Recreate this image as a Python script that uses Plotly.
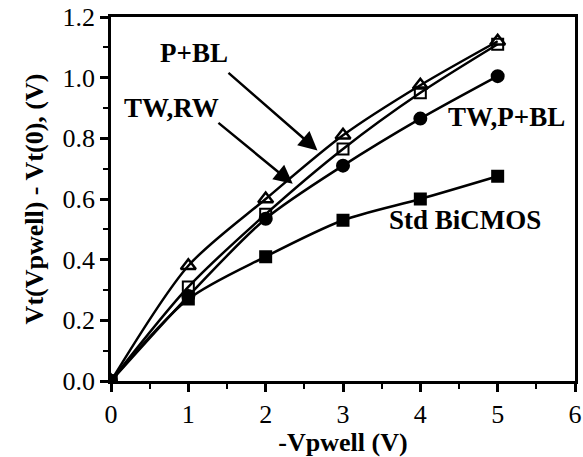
import plotly.graph_objects as go

vp = [0, 1, 2, 3, 4, 5]
std_bicmos = [0.0, 0.27, 0.41, 0.53, 0.60, 0.675]
tw_pbl = [0.0, 0.28, 0.535, 0.71, 0.865, 1.005]
tw_rw = [0.0, 0.31, 0.55, 0.765, 0.95, 1.11]
p_bl = [0.0, 0.38, 0.60, 0.81, 0.975, 1.12]

x_ticks = [0, 1, 2, 3, 4, 5, 6]
y_ticks = [0.0, 0.2, 0.4, 0.6, 0.8, 1.0, 1.2]

FONT = "Liberation Serif"
fig = go.Figure()

series = [
    ("Std BiCMOS", std_bicmos, "square", 11, 2),
    ("TW,P+BL", tw_pbl, "circle", 12, 2),
    ("TW,RW", tw_rw, "square-open", 11, 2),
    ("P+BL", p_bl, "triangle-up-open", 13, 2.5),
]
for name, ys, sym, sz, lw in series:
    fig.add_trace(go.Scatter(
        x=vp, y=ys, name=name, mode="lines+markers",
        line=dict(color="black", width=2.5, shape="spline", smoothing=0.8),
        marker=dict(symbol=sym, size=sz, color="black",
                    line=dict(color="black", width=lw)),
        showlegend=False,
    ))

lab_font = dict(family=FONT, size=27, color="black", weight="bold")
# arrows
fig.add_annotation(x=2.67, y=0.76, ax=1.50, ay=1.02, xref="x", yref="y",
                   axref="x", ayref="y", showarrow=True, arrowhead=2,
                   arrowsize=1.5, arrowwidth=2.5, arrowcolor="black", text="")
fig.add_annotation(x=2.35, y=0.65, ax=1.37, ay=0.855, xref="x", yref="y",
                   axref="x", ayref="y", showarrow=True, arrowhead=2,
                   arrowsize=1.5, arrowwidth=2.5, arrowcolor="black", text="")
labels = [("P+BL", 1.07, 1.08), ("TW,RW", 0.78, 0.90),
          ("TW,P+BL", 5.11, 0.87), ("Std BiCMOS", 4.58, 0.53)]
for t, x, y in labels:
    fig.add_annotation(x=x, y=y, text=t, showarrow=False, font=lab_font,
                       xanchor="center", yanchor="middle")

tick_font = dict(family=FONT, size=26, color="black")
title_font = dict(family=FONT, size=26, color="black", weight="bold")
fig.update_xaxes(range=[0, 6], tickvals=x_ticks, ticktext=[str(v) for v in x_ticks],
                 ticks="outside", ticklen=8, tickwidth=2.5, tickcolor="black",
                 minor=dict(ticks="outside", dtick=0.5, tick0=0, ticklen=5,
                            tickwidth=2, tickcolor="black"),
                 showline=True, linecolor="black", linewidth=2.5, mirror=True,
                 showgrid=False, zeroline=False, tickfont=tick_font,
                 ticklabeloverflow="allow", automargin=False,
                 title=dict(text="-Vpwell (V)", font=title_font, standoff=6))
fig.update_yaxes(range=[0, 1.2], tickvals=y_ticks,
                 ticktext=[f"{v:.1f}" for v in y_ticks],
                 ticks="outside", ticklen=8, tickwidth=2.5, tickcolor="black",
                 minor=dict(ticks="outside", dtick=0.1, tick0=0, ticklen=5,
                            tickwidth=2, tickcolor="black"),
                 showline=True, linecolor="black", linewidth=2.5, mirror=True,
                 showgrid=False, zeroline=False, tickfont=tick_font,
                 ticklabeloverflow="allow", automargin=False,
                 title=dict(text="Vt(Vpwell) - Vt(0), (V)", font=title_font,
                            standoff=12))
fig.update_layout(width=583, height=457, margin=dict(l=111, r=8, t=17, b=76),
                  plot_bgcolor="white", paper_bgcolor="white")
fig.write_html("out.html", config={"displayModeBar": False},
               post_script="document.body.style.margin='0';"
                           "document.body.style.overflow='hidden';")
